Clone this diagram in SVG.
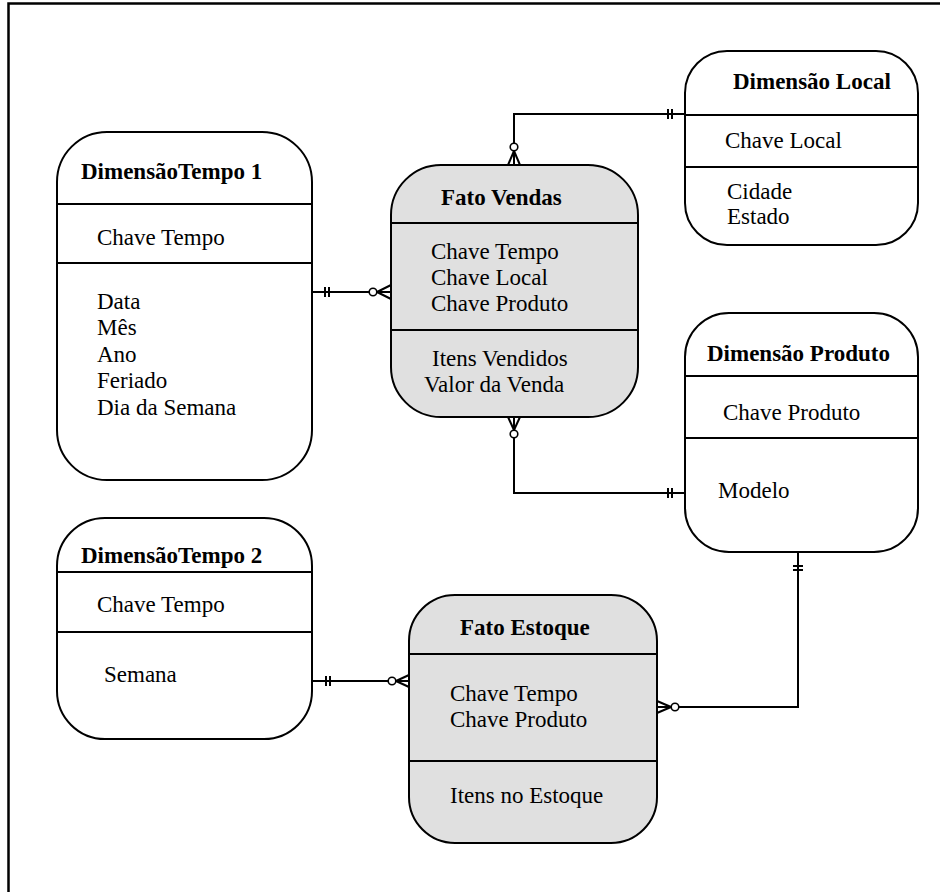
<svg xmlns="http://www.w3.org/2000/svg" width="940" height="892" viewBox="0 0 940 892">
  <style>
    .box { stroke: #000; stroke-width: 2; }
    .dim { fill: #fff; }
    .fact { fill: #e0e0e0; }
    .sep { stroke: #000; stroke-width: 2; }
    .title { font-family: "Liberation Serif", "Times New Roman", serif; font-size: 23px; font-weight: bold; fill: #000; }
    .attr { font-family: "Liberation Serif", "Times New Roman", serif; font-size: 23px; fill: #000; }
    .wire { fill: none; stroke: #000; stroke-width: 2; }
    .tick { stroke: #000; stroke-width: 2; }
    .ring { fill: #fff; stroke: #000; stroke-width: 1.6; }
  </style>

  <!-- page frame -->
  <rect x="0" y="0" width="940" height="892" fill="#fff"/>
  <path d="M8.5 892 V3.5 H940" fill="none" stroke="#000" stroke-width="2.5"/>

  <!-- connectors -->
  <g id="connectors">
    <!-- Tempo 1 -> Fato Vendas -->
    <g id="c-tempo1-vendas">
      <line class="wire" x1="313" y1="292" x2="369" y2="292"/>
      <line class="tick" x1="325" y1="287" x2="325" y2="297"/>
      <line class="tick" x1="329" y1="287" x2="329" y2="297"/>
      <line class="wire" x1="377" y1="292" x2="391" y2="285"/>
      <line class="wire" x1="377" y1="292" x2="391" y2="292"/>
      <line class="wire" x1="377" y1="292" x2="391" y2="299"/>
      <circle class="ring" cx="373" cy="292" r="3.8"/>
    </g>
    <!-- Fato Vendas -> Local -->
    <g id="c-vendas-local">
      <polyline class="wire" points="514,143 514,114 685,114"/>
      <line class="tick" x1="668" y1="109" x2="668" y2="119"/>
      <line class="tick" x1="672" y1="109" x2="672" y2="119"/>
      <line class="wire" x1="514" y1="151" x2="508" y2="165"/>
      <line class="wire" x1="514" y1="151" x2="514" y2="165"/>
      <line class="wire" x1="514" y1="151" x2="520" y2="165"/>
      <circle class="ring" cx="514" cy="147" r="3.8"/>
    </g>
    <!-- Fato Vendas -> Produto -->
    <g id="c-vendas-produto">
      <polyline class="wire" points="514,438 514,493 685,493"/>
      <line class="tick" x1="668" y1="488" x2="668" y2="498"/>
      <line class="tick" x1="672" y1="488" x2="672" y2="498"/>
      <line class="wire" x1="514" y1="430" x2="508" y2="417"/>
      <line class="wire" x1="514" y1="430" x2="514" y2="417"/>
      <line class="wire" x1="514" y1="430" x2="520" y2="417"/>
      <circle class="ring" cx="514" cy="434" r="3.8"/>
    </g>
    <!-- Tempo 2 -> Fato Estoque -->
    <g id="c-tempo2-estoque">
      <line class="wire" x1="313" y1="681" x2="388" y2="681"/>
      <line class="tick" x1="326" y1="676" x2="326" y2="686"/>
      <line class="tick" x1="330" y1="676" x2="330" y2="686"/>
      <line class="wire" x1="396" y1="681" x2="409" y2="675"/>
      <line class="wire" x1="396" y1="681" x2="409" y2="681"/>
      <line class="wire" x1="396" y1="681" x2="409" y2="687"/>
      <circle class="ring" cx="392" cy="681" r="3.8"/>
    </g>
    <!-- Produto -> Fato Estoque -->
    <g id="c-produto-estoque">
      <polyline class="wire" points="798,552 798,707 679,707"/>
      <line class="tick" x1="793" y1="566" x2="803" y2="566"/>
      <line class="tick" x1="793" y1="570" x2="803" y2="570"/>
      <line class="wire" x1="671" y1="707" x2="657" y2="701"/>
      <line class="wire" x1="671" y1="707" x2="657" y2="707"/>
      <line class="wire" x1="671" y1="707" x2="657" y2="713"/>
      <circle class="ring" cx="675" cy="707" r="3.8"/>
    </g>
  </g>

  <!-- DimensãoTempo 1 -->
  <g id="dim-tempo1">
    <rect class="box dim" x="57" y="132" width="255" height="348" rx="50" ry="50"/>
    <line class="sep" x1="57" y1="204" x2="312" y2="204"/>
    <line class="sep" x1="57" y1="263" x2="312" y2="263"/>
    <text class="title" x="81" y="179">DimensãoTempo 1</text>
    <text class="attr" x="97" y="245">Chave Tempo</text>
    <text class="attr" x="97" y="309">Data</text>
    <text class="attr" x="97" y="335">Mês</text>
    <text class="attr" x="97" y="362">Ano</text>
    <text class="attr" x="97" y="388">Feriado</text>
    <text class="attr" x="97" y="415">Dia da Semana</text>
  </g>

  <!-- DimensãoTempo 2 -->
  <g id="dim-tempo2">
    <rect class="box dim" x="57" y="518" width="255" height="221" rx="48" ry="48"/>
    <line class="sep" x1="57" y1="572" x2="312" y2="572"/>
    <line class="sep" x1="57" y1="632" x2="312" y2="632"/>
    <text class="title" x="81" y="563">DimensãoTempo 2</text>
    <text class="attr" x="97" y="612">Chave Tempo</text>
    <text class="attr" x="104" y="682">Semana</text>
  </g>

  <!-- Fato Vendas -->
  <g id="fato-vendas">
    <rect class="box fact" x="391" y="165" width="247" height="252" rx="50" ry="50"/>
    <line class="sep" x1="391" y1="223" x2="638" y2="223"/>
    <line class="sep" x1="391" y1="330" x2="638" y2="330"/>
    <text class="title" x="441" y="205">Fato Vendas</text>
    <text class="attr" x="431" y="259">Chave Tempo</text>
    <text class="attr" x="431" y="285">Chave Local</text>
    <text class="attr" x="431" y="311">Chave Produto</text>
    <text class="attr" x="432" y="366">Itens Vendidos</text>
    <text class="attr" x="424" y="392">Valor da Venda</text>
  </g>

  <!-- Fato Estoque -->
  <g id="fato-estoque">
    <rect class="box fact" x="409" y="595" width="248" height="248" rx="46" ry="46"/>
    <line class="sep" x1="409" y1="654" x2="657" y2="654"/>
    <line class="sep" x1="409" y1="761" x2="657" y2="761"/>
    <text class="title" x="460" y="635">Fato Estoque</text>
    <text class="attr" x="450" y="701">Chave Tempo</text>
    <text class="attr" x="450" y="727">Chave Produto</text>
    <text class="attr" x="450" y="803">Itens no Estoque</text>
  </g>

  <!-- Dimensão Local -->
  <g id="dim-local">
    <rect class="box dim" x="685" y="51" width="233" height="194" rx="42" ry="42"/>
    <line class="sep" x1="685" y1="115" x2="918" y2="115"/>
    <line class="sep" x1="685" y1="167" x2="918" y2="167"/>
    <text class="title" x="733" y="89">Dimensão Local</text>
    <text class="attr" x="725" y="148">Chave Local</text>
    <text class="attr" x="727" y="199">Cidade</text>
    <text class="attr" x="727" y="224">Estado</text>
  </g>

  <!-- Dimensão Produto -->
  <g id="dim-produto">
    <rect class="box dim" x="685" y="313" width="233" height="239" rx="44" ry="44"/>
    <line class="sep" x1="685" y1="376" x2="918" y2="376"/>
    <line class="sep" x1="685" y1="438" x2="918" y2="438"/>
    <text class="title" x="707" y="361">Dimensão Produto</text>
    <text class="attr" x="723" y="420">Chave Produto</text>
    <text class="attr" x="718" y="498">Modelo</text>
  </g>
</svg>
